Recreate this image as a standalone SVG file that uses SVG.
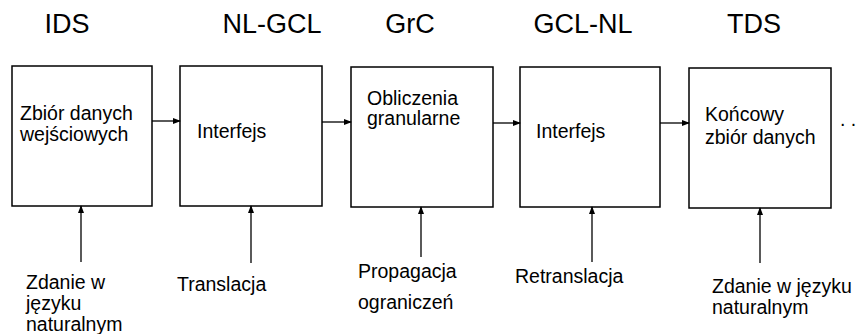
<svg xmlns="http://www.w3.org/2000/svg" width="858" height="334" viewBox="0 0 858 334">
<defs>
<marker id="ah" markerWidth="8" markerHeight="6" refX="7" refY="3" orient="auto" markerUnits="userSpaceOnUse">
<path d="M0,0 L8,3 L0,6 Z" fill="#000"/>
</marker>
<style>
.box{fill:#fff;stroke:#000;stroke-width:1.5}
.t{font-family:"Liberation Sans",Arial,sans-serif;fill:#000}
.title{font-size:27px;text-anchor:middle}
.lbl{font-size:19.5px}
.c{stroke:#000;stroke-width:1.3;fill:none;marker-end:url(#ah)}
</style>
</defs>
<rect width="858" height="334" fill="#fff"/>
<g id="titles">
<text class="t title" x="67" y="33">IDS</text>
<text class="t title" x="272" y="33">NL-GCL</text>
<text class="t title" x="410" y="33">GrC</text>
<text class="t title" x="583" y="33">GCL-NL</text>
<text class="t title" x="754" y="33">TDS</text>
</g>
<g id="IDS">
<rect class="box" x="12" y="66" width="140" height="140"/>
<text class="t lbl" x="20" y="120">Zbiór danych</text>
<text class="t lbl" x="20" y="141">wejściowych</text>
</g>
<g id="NL-GCL">
<rect class="box" x="180" y="66" width="142" height="140"/>
<text class="t lbl" x="197" y="138">Interfejs</text>
</g>
<g id="GrC">
<rect class="box" x="351" y="67" width="142" height="140"/>
<text class="t lbl" x="367" y="105">Obliczenia</text>
<text class="t lbl" x="367" y="125">granularne</text>
</g>
<g id="GCL-NL">
<rect class="box" x="520" y="67" width="140" height="140"/>
<text class="t lbl" x="536" y="138">Interfejs</text>
</g>
<g id="TDS">
<rect class="box" x="689" y="68" width="142" height="140"/>
<text class="t lbl" x="705" y="121">Końcowy</text>
<text class="t lbl" x="705" y="144">zbiór danych</text>
</g>
<g id="inputs">
<text class="t lbl" x="26" y="289">Zdanie w</text>
<text class="t lbl" x="26" y="310">języku</text>
<text class="t lbl" x="26" y="331">naturalnym</text>
<text class="t lbl" x="177" y="291">Translacja</text>
<text class="t lbl" x="358" y="278">Propagacja</text>
<text class="t lbl" x="358" y="309">ograniczeń</text>
<text class="t lbl" x="515" y="283">Retranslacja</text>
<text class="t lbl" x="712" y="293">Zdanie w języku</text>
<text class="t lbl" x="712" y="314">naturalnym</text>
<text class="t lbl" x="840" y="126">. .</text>
</g>
<g id="connectors">
<line class="c" x1="152" y1="121" x2="180" y2="121"/>
<line class="c" x1="322" y1="122" x2="351" y2="122"/>
<line class="c" x1="493" y1="123" x2="520" y2="123"/>
<line class="c" x1="660" y1="123" x2="689" y2="123"/>
<line class="c" x1="81" y1="262" x2="81" y2="206"/>
<line class="c" x1="251" y1="263" x2="251" y2="206"/>
<line class="c" x1="421" y1="257" x2="421" y2="207"/>
<line class="c" x1="592" y1="262" x2="592" y2="207"/>
<line class="c" x1="760" y1="263" x2="760" y2="208"/>
</g>
</svg>
